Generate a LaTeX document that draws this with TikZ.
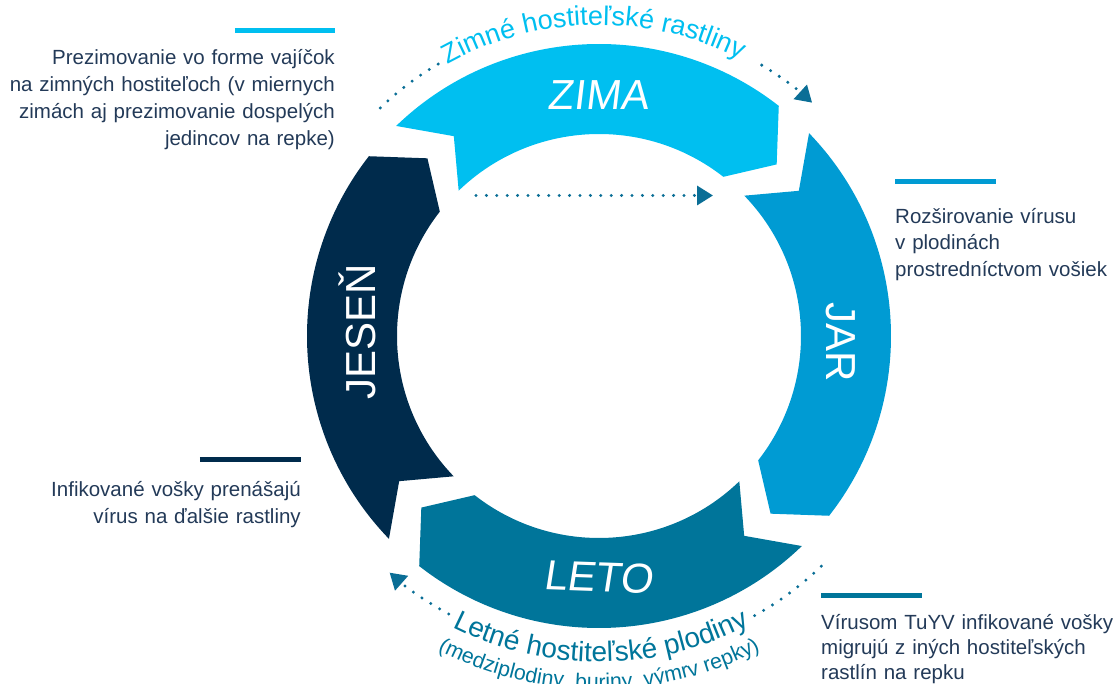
\documentclass[tikz,border=0pt]{standalone}
\usepackage{fontspec}
\setmainfont{Liberation Sans}
\newfontfamily\slantfont{Liberation Sans}[FakeSlant=0.12]
\usetikzlibrary{arrows.meta,decorations.text}
\definecolor{cZima}{HTML}{00BFF0}
\definecolor{cJar}{HTML}{009BD3}
\definecolor{cLeto}{HTML}{00759A}
\definecolor{cJesen}{HTML}{002B4C}
\definecolor{cText}{HTML}{233A58}
\definecolor{cDot}{HTML}{0A6E96}
% ring segment: #1 = centre angle, #2 = colour
\newcommand\ringseg[2]{%
  \fill[#2] ({#1+41}:292) arc[start angle={#1+41}, end angle={#1-41}, radius=292]
    -- ({#1-49}:247) -- ({#1-41}:202)
    arc[start angle={#1-41}, end angle={#1+41}, radius=202]
    -- ({#1+33}:247) -- cycle;}
\begin{document}
\begin{tikzpicture}[x=1pt,y=1pt,
  lbl/.style={text=white, font=\fontsize{42}{42}\selectfont, inner sep=0pt},
  lblslant/.style={lbl, font=\slantfont\fontsize{42}{42}\selectfont},
  bar/.style={line width=5pt, draw=#1},
  noteR/.style={text=cText, font=\fontsize{20.5}{26.7}\selectfont, inner sep=0pt,
    text width=420pt, align=right, anchor=base east},
  noteL/.style={text=cText, font=\fontsize{20.5}{26.7}\selectfont, inner sep=0pt,
    text width=420pt, align=left, anchor=base west},
  dots/.style={draw=cDot, line width=3.3pt, line cap=round, dash pattern=on 0pt off 10.4pt},
  tip/.style={-{Triangle[length=16pt,width=19pt]}},
]
\useasboundingbox (-599,-348) rectangle (517,336);

% ring
\ringseg{93}{cZima}
\ringseg{3}{cJar}
\ringseg{-87}{cLeto}
\ringseg{183}{cJesen}

% season labels
\node[lblslant] (zima) at (-1,241) {ZIMA};
\node[lbl, rotate=-90] (jar) at (242,-6) {JAR};
\node[lblslant, rotate=-2] (leto) at (-1,-241) {LETO};
\node[lbl, rotate=90] (jesen) at (-242,4) {JESEŇ};

% bars
\draw[bar=cZima] (-364,305.5) -- (-264,305.5);
\draw[bar=cJar] (296,154.5) -- (397,154.5);
\draw[bar=cJesen] (-399,-123.5) -- (-298,-123.5);
\draw[bar=cLeto] (222,-260) -- (323,-260);

% notes
\node[noteR] (n1) at (-264,271) {Prezimovanie vo forme vajíčok\\na zimných hostiteľoch (v miernych\\zimách aj prezimovanie dospelých\\jedincov na repke)};
\node[noteL] (n2) at (296,112.7) {Rozširovanie vírusu\\v plodinách\\prostredníctvom vošiek};
\node[noteR] (n3) at (-298,-160.7) {Infikované vošky prenášajú\\vírus na ďalšie rastliny};
\node[noteL, font=\fontsize{20.5}{25}\selectfont] (n4) at (222,-294) {Vírusom TuYV infikované vošky\\migrujú z iných hostiteľských\\rastlín na repku};

% dotted arrows
\coordinate (ta) at (133.8:316);
\coordinate (tb) at (59:316);
\draw[dots] (ta) arc[start angle=133.8, end angle=120.5, radius=316];
\draw[dots, tip] (tb) arc[start angle=59, end angle=47.6, radius=316];
\coordinate (ma) at (-123,140.5);
\coordinate (mb) at (114,140.5);
\draw[dots, tip] (ma) -- (mb);
\coordinate (ba) at (314:320);
\coordinate (bb) at (241.6:316);
\draw[dots] (ba) arc[start angle=314, end angle=298, radius=320];
\draw[dots, tip] (bb) arc[start angle=241.6, end angle=228.5, radius=316];

% texts along arcs
\path[decorate, decoration={text along path, text align=center,
  text={|\fontsize{27}{27}\selectfont\color{cZima}|Zimné hostiteľské rastliny}}]
  (131:311) arc[start angle=131, end angle=51, radius=311];
\path[decorate, decoration={text along path, text align=center,
  text={|\fontsize{28}{28}\selectfont\color{cLeto}|Letné hostiteľské plodiny}}]
  (230:326) arc[start angle=230, end angle=310.7, radius=326];
\path[decorate, decoration={text along path, text align=center,
  text={|\fontsize{21.3}{21.3}\selectfont\color{cLeto}|(medziplodiny, buriny, výmrv repky)}}]
  (230:353) arc[start angle=230, end angle=310, radius=353];
\end{tikzpicture}
\end{document}
